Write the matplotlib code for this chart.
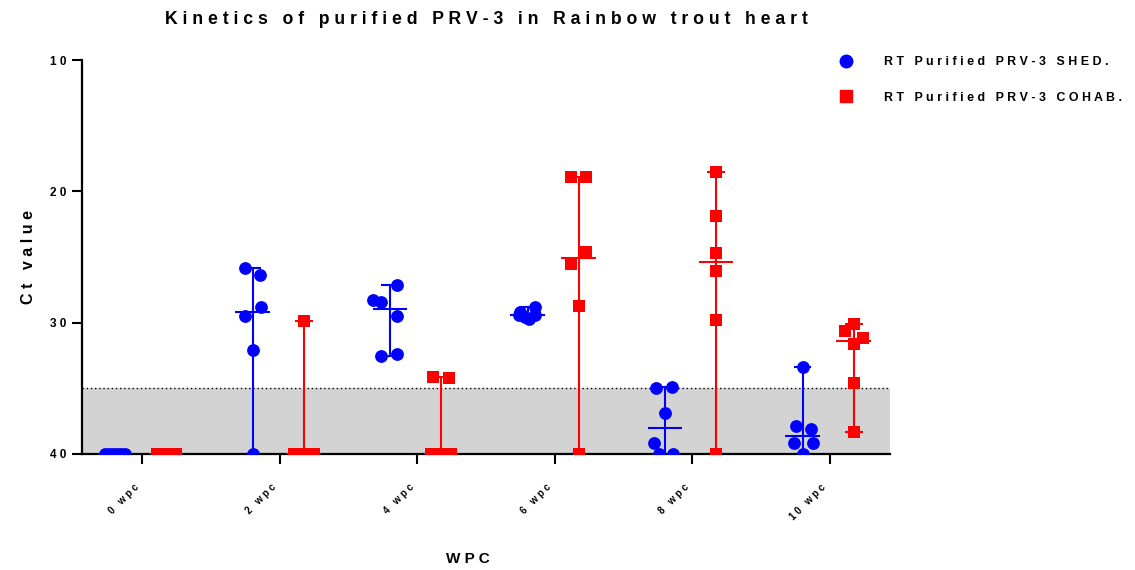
import numpy as np
import matplotlib
matplotlib.use("Agg")
import matplotlib.pyplot as plt
from matplotlib.lines import Line2D
from matplotlib.transforms import ScaledTranslation

plt.rcParams['font.family'] = ['Liberation Sans', 'DejaVu Sans']
plt.rcParams['font.weight'] = 'bold'

# Data (Ct values per time point)
groups = ["0 wpc", "2 wpc", "4 wpc", "6 wpc", "8 wpc", "10 wpc"]

shed = [
    [40, 40, 40, 40, 40, 40],
    [25.8, 26.4, 28.8, 29.5, 32.1, 40],
    [27.1, 28.3, 28.4, 29.5, 32.4, 32.5],
    [28.8, 29.2, 29.4, 29.4, 29.6, 29.7],
    [34.9, 35.0, 36.9, 39.2, 40, 40],
    [33.4, 37.9, 38.1, 39.2, 39.2, 40],
]
cohab = [
    [40, 40, 40, 40, 40, 40],
    [29.9, 40, 40, 40, 40, 40],
    [34.1, 34.2, 40, 40, 40, 40],
    [18.9, 18.9, 24.6, 25.5, 28.7, 40],
    [18.5, 21.9, 24.7, 26.1, 29.8, 40],
    [30.1, 30.6, 31.2, 31.6, 34.6, 38.3],
]

# horizontal scatter of the points (pixels in the original, converted below)
shed_jit = [
    [-10, -6, -2, 2, 6, 10],
    [-8, 7, 8, -8, 0, 0],
    [7, -17, -9, 7, 7, -9],
    [7, -8, -9, 7, -3, 1],
    [7, -9, 0, -11, -6, 8],
    [0, -7, 8, -9, 10, 0],
]
cohab_jit = [
    [-9, -5, -1, 3, 7, 10],
    [0, -10, -5, 0, 5, 10],
    [-8, 8, -10, -3, 3, 10],
    [-8, 7, 7, -8, 0, 0],
    [0, 0, 0, 0, 0, 0],
    [0, -9, 9, 0, 0, 0],
]

cutoff = 35
px = 137.5  # pixels per group in the reference


def spaced(s):
    return " ".join(s)


fig = plt.figure(figsize=(11.35, 5.70), dpi=100)
ax = fig.add_axes([82 / 1135, 1 - 454 / 570, 808 / 1135, 394 / 570])

x = np.arange(len(groups))
ax.axhspan(cutoff, 40, color="#d3d3d3", zorder=0, lw=0)
ax.axhline(cutoff, color="black", ls=(0, (1, 2)), lw=1.0, zorder=1)


def draw(data, jit, offset, color, marker):
    for i, vals in enumerate(data):
        vals = np.array(vals, dtype=float)
        c = x[i] + offset
        xs = c + np.array(jit[i]) / px
        med = np.median(vals)
        lo, hi = vals.min(), vals.max()
        ax.vlines(c, lo, hi, color=color, lw=1.5, zorder=2)
        ax.hlines([lo, hi], c - 0.065, c + 0.065, color=color, lw=1.5, zorder=2)
        ax.hlines(med, c - 0.125, c + 0.125, color=color, lw=1.5, zorder=4)
        ax.scatter(xs, vals, s=85, marker=marker, color=color, zorder=3, lw=0)


draw(shed, shed_jit, -0.196, "#0000ff", "o")
draw(cohab, cohab_jit, 0.175, "#ff0000", "s")

ax.set_ylim(40, 10)
ax.set_xlim(-60 / px, 748 / px)
ax.set_yticks([10, 20, 30, 40])
ax.set_yticklabels([spaced(str(v)) for v in [10, 20, 30, 40]], fontsize=8.5, fontweight="bold")
ax.set_xticks(x)
ax.set_xticklabels([spaced(g) for g in groups], rotation=45, ha="right", va="center",
                   rotation_mode="anchor", fontsize=7, fontweight="bold")
ax.tick_params(axis="x", length=7, width=1.5, pad=16)
ax.tick_params(axis="y", length=7, width=1.5, pad=4)
shift = ScaledTranslation(-5 / 100, 0, fig.dpi_scale_trans)
for lab in ax.get_xticklabels():
    lab.set_transform(lab.get_transform() + shift)
for s in ["top", "right"]:
    ax.spines[s].set_visible(False)
for s in ["left", "bottom"]:
    ax.spines[s].set_linewidth(1.6)

ax.set_title(spaced("Kinetics of purified PRV-3 in Rainbow trout heart"),
             fontsize=12.7, fontweight="bold", pad=26)
ax.set_ylabel(spaced("Ct value"), fontsize=11.5, fontweight="bold", labelpad=10)
ax.set_xlabel(spaced("WPC"), fontsize=11, fontweight="bold")
ax.xaxis.set_label_coords(386 / 808, -98 / 394)

handles = [
    Line2D([], [], marker="o", color="#0000ff", ls="none", markersize=9),
    Line2D([], [], marker="s", color="#ff0000", ls="none", markersize=9),
]
fig.legend(handles, [spaced("RT Purified PRV-3 SHED."), spaced("RT Purified PRV-3 COHAB.")],
           loc="upper left", bbox_to_anchor=(823 / 1135, 1 - 45 / 570), frameon=False,
           prop={"size": 8.9, "weight": "bold"}, handletextpad=2.0, labelspacing=1.9)

fig.savefig("out.png", dpi=100)
